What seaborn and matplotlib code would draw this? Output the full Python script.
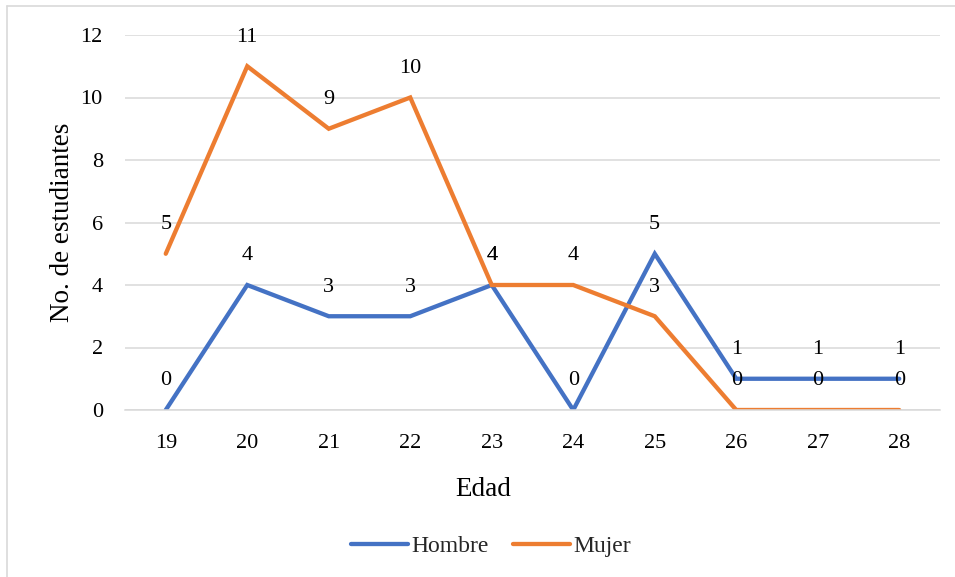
import matplotlib
matplotlib.use("Agg")
import matplotlib.pyplot as plt
import seaborn as sns
import pandas as pd
from matplotlib.lines import Line2D

edades = ["19", "20", "21", "22", "23", "24", "25", "26", "27", "28"]
hombre = [0, 4, 3, 3, 4, 0, 5, 1, 1, 1]
mujer = [5, 11, 9, 10, 4, 4, 3, 0, 0, 0]
series_names = ["Hombre", "Mujer"]
colors = {"Hombre": "#4472C4", "Mujer": "#ED7D31"}

df = pd.DataFrame({
    "Edad": edades * 2,
    "pos": list(range(len(edades))) * 2,
    "valor": hombre + mujer,
    "Sexo": ["Hombre"] * len(edades) + ["Mujer"] * len(edades),
})

sns.set_theme(style="white")
plt.rcParams["font.family"] = ["Liberation Serif", "DejaVu Serif"]

fig = plt.figure(figsize=(9.55, 5.77), dpi=100)
ax = fig.add_axes([125/955, 1 - 410/577, 815/955, 375/577])

sns.lineplot(data=df, x="pos", y="valor", hue="Sexo", hue_order=series_names,
             palette=colors, linewidth=3.1, ax=ax, legend=True,
             solid_capstyle="round", solid_joinstyle="miter")

for name, vals in zip(series_names, [hombre, mujer]):
    for i, v in enumerate(vals):
        ax.annotate(str(v), (i, v), xytext=(0, 21), textcoords="offset points",
                    ha="center", va="center", fontsize=16, color="#000000")

ax.set_xlim(-0.5, len(edades) - 0.5)
ax.set_ylim(0, 12)
ax.set_yticks(range(0, 13, 2))
ax.set_xticks(range(len(edades)))
ax.set_xticklabels(edades)
ax.yaxis.grid(True, color="#D9D9D9", linewidth=1.1)
ax.set_axisbelow(True)
for s in ["top", "right", "left"]:
    ax.spines[s].set_visible(False)
ax.spines["bottom"].set_color("#D9D9D9")
ax.spines["bottom"].set_linewidth(1.1)
ax.tick_params(axis="both", length=0, labelsize=16, colors="#000000")
ax.tick_params(axis="y", pad=16)
ax.tick_params(axis="x", pad=17)
ax.set_xlabel("Edad", fontsize=19.5, color="#000000")
ax.xaxis.set_label_coords((483 - 125) / 815, -67 / 375)
ax.set_ylabel("No. de estudiantes", fontsize=19.5, color="#000000")
ax.yaxis.set_label_coords(-(125 - 75) / 815, 0.5)

handles, labels = ax.get_legend_handles_labels()
ax.legend(handles, labels, loc="center", bbox_to_anchor=(491/955, 31/577),
          bbox_transform=fig.transFigure, ncol=2, frameon=False, fontsize=17,
          handlelength=2.4, handletextpad=0.15, columnspacing=1.05)

fig.add_artist(Line2D([7/955, 1.0], [1 - 6/577, 1 - 6/577], transform=fig.transFigure,
                      color="#D9D9D9", linewidth=1.2))
fig.add_artist(Line2D([7/955, 7/955], [0.0, 1 - 6/577], transform=fig.transFigure,
                      color="#D9D9D9", linewidth=1.2))

fig.savefig("out.png", dpi=100)
